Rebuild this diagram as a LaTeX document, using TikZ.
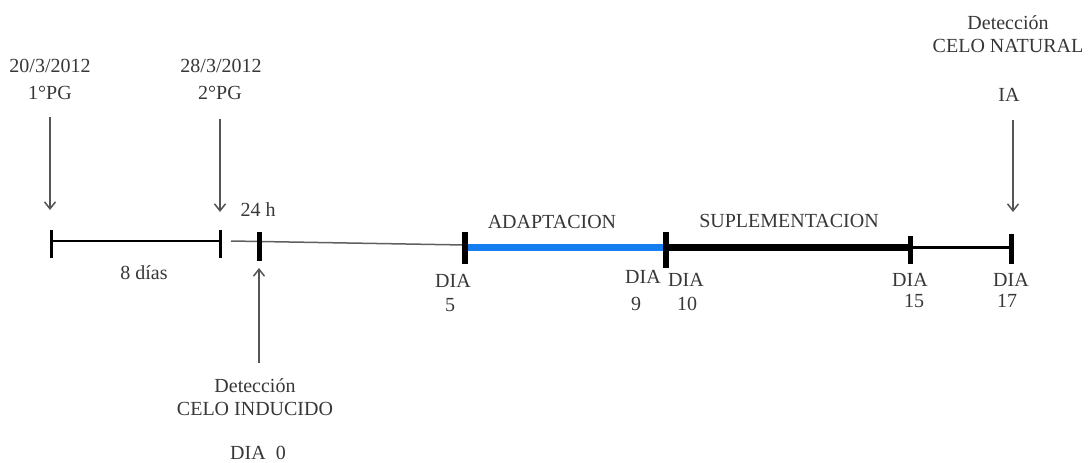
\documentclass[tikz,border=0pt]{standalone}
\usepackage{fontspec}
\setmainfont{Liberation Serif}
\usetikzlibrary{arrows.meta}
\definecolor{txt}{RGB}{55,55,55}
\definecolor{arr}{RGB}{85,85,85}
\definecolor{thinline}{RGB}{95,95,95}
\definecolor{adapt}{RGB}{20,125,240}

\begin{document}
\begin{tikzpicture}[x=0.5pt,y=-0.5pt,
  lbl/.style={font=\fontsize{10}{12}\selectfont, text=txt, inner sep=0pt, anchor=center},
  pointer/.style={draw=arr, line width=0.75pt, -{Straight Barb[length=3.5pt,width=5.5pt]}},
  tickmark/.style={draw=black, line width=#1},
  span/.style={line width=#1}]
\useasboundingbox (0,0) rectangle (1091,462);

% --- labels above the timeline ---
\node[lbl] (d1)  at (50,66)  {20/3/2012};
\node[lbl] (pg1) at (50,93)  {1°PG};
\node[lbl] (d2)  at (221,66) {28/3/2012};
\node[lbl] (pg2) at (220,93) {2°PG};
\node[lbl] (h24) at (258,210) {24 h};
\node[lbl] (ad)  at (552,222) {ADAPTACION};
\node[lbl] (sup) at (789,221) {SUPLEMENTACION};
\node[lbl] (detn) at (1008,23) {Detección};
\node[lbl] (celn) at (1008,46) {CELO NATURAL};
\node[lbl] (ia)   at (1009,95) {IA};

% --- labels below the timeline ---
\node[lbl] (ocho) at (144,273) {8 días};
\node[lbl] (deti) at (255,386) {Detección};
\node[lbl] (celi) at (255,409) {CELO INDUCIDO};
\node[lbl] (dia0) at (258,453) {DIA\ \ 0};
\node[lbl] (dia5)  at (453,281) {DIA};
\node[lbl] (n5)    at (450,305) {5};
\node[lbl] (dia9)  at (643,277) {DIA};
\node[lbl] (n9)    at (636,304) {9};
\node[lbl] (dia10) at (686,280) {DIA};
\node[lbl] (n10)   at (687,304) {10};
\node[lbl] (dia15) at (910,280) {DIA};
\node[lbl] (n15)   at (914,301) {15};
\node[lbl] (dia17) at (1011,280) {DIA};
\node[lbl] (n17)   at (1007,301) {17};

% --- timeline points ---
\coordinate (p1)  at (51,241);
\coordinate (p2)  at (220,241);
\coordinate (g0)  at (231,241);
\coordinate (p5)  at (465,245);
\coordinate (p5b) at (465,247.5);
\coordinate (p9)  at (666,247.5);
\coordinate (p15) at (911,247.5);
\coordinate (p17) at (1011,247.5);

% segments
\draw[span=1.2pt] (p1) -- (p2);
\draw[span=0.75pt, draw=thinline] (g0) -- (p5);
\draw[span=3.5pt, draw=adapt] (p5b) -- (p9);
\draw[span=3.5pt] (p9) -- (p15);
\draw[span=1.5pt] (p15) -- (p17);

% tick marks
\draw[tickmark=1.5pt] (51,230) -- (51,258);
\draw[tickmark=1.5pt] (220,230) -- (220,258);
\draw[tickmark=2.5pt] (259,232) -- (259,261);
\draw[tickmark=3pt]   (465,232) -- (465,264);
\draw[tickmark=3pt]   (666,232) -- (666,268);
\draw[tickmark=2.5pt] (910.5,236) -- (910.5,264);
\draw[tickmark=2.5pt] (1011,234) -- (1011,264);

% --- pointer arrows ---
\coordinate (a1s) at (50,117);   \coordinate (a1e) at (50,210);
\coordinate (a2s) at (220,119);  \coordinate (a2e) at (220,212);
\coordinate (a0s) at (259,363);  \coordinate (a0e) at (259,268);
\coordinate (a17s) at (1013,120); \coordinate (a17e) at (1013,212);
\draw[pointer] (a1s) -- (a1e);
\draw[pointer] (a2s) -- (a2e);
\draw[pointer] (a0s) -- (a0e);
\draw[pointer] (a17s) -- (a17e);
\end{tikzpicture}
\end{document}
